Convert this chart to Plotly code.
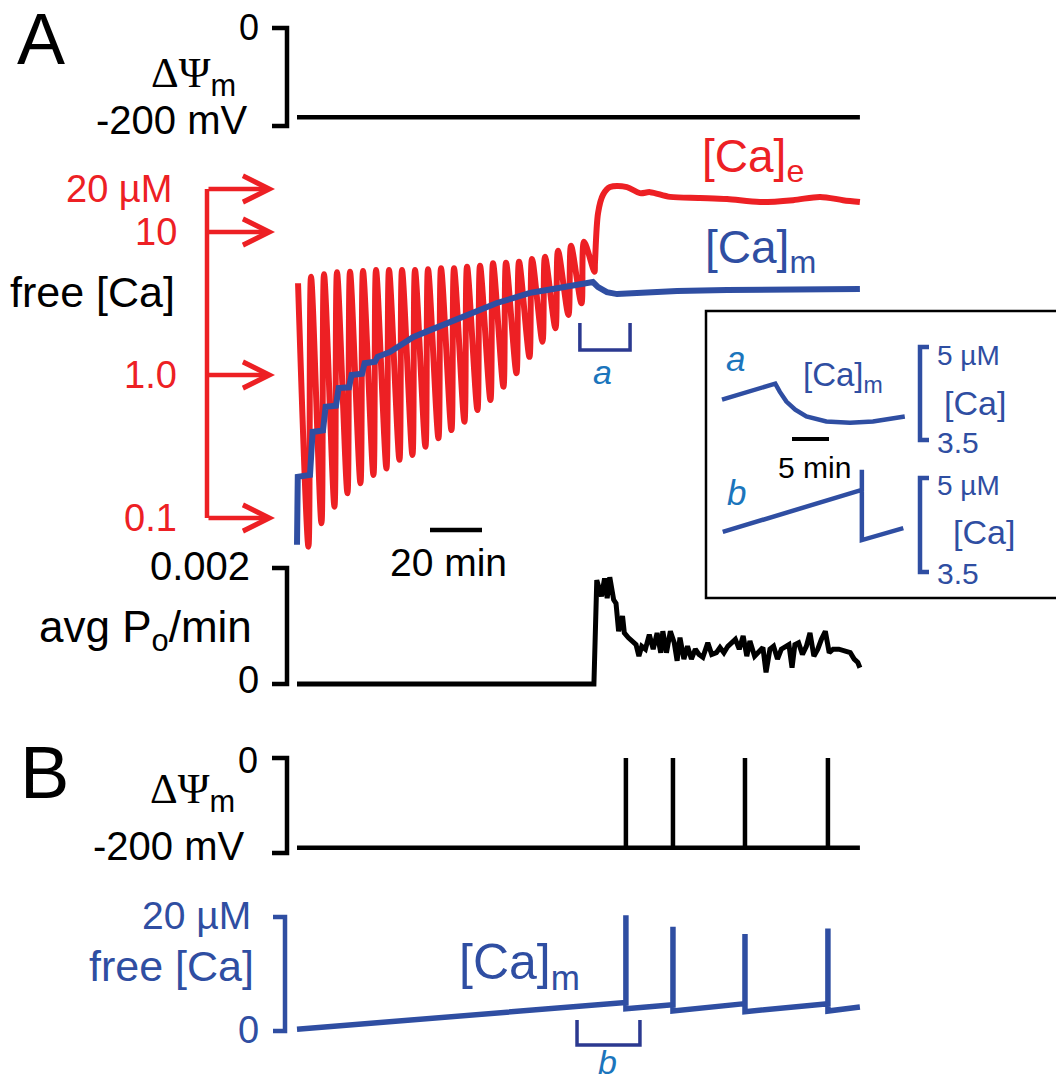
import math
import plotly.graph_objects as go

# ======================= DATA =======================
# Panel A – membrane potential (mV) vs time (min)
dpsiA_t = [0, 216.5]
dpsiA_v = [-182, -182]

# Panel A – extramitochondrial free Ca (µM): one Ca addition every 5 min
add_times = [0, 5, 10, 15, 20, 25, 30, 35, 40, 45, 50, 55, 60, 65, 70, 75, 80, 85, 90, 95, 100, 105, 110]
caE_peak = [4.38, 4.87, 5.06, 5.23, 5.28, 5.34, 5.42, 5.42, 5.42, 5.42, 5.48, 5.57, 5.57,
            5.72, 5.81, 6.04, 6.10, 6.20, 6.47, 6.72, 7.40, 8.00, 8.55]
caE_trough = [0.063, 0.092, 0.12, 0.149, 0.175, 0.20, 0.222, 0.255, 0.276, 0.315, 0.361, 0.412,
              0.472, 0.569, 0.669, 0.828, 1.03, 1.34, 1.71, 2.12, 2.63, 3.17, 5.28]
caE_post_t = [114.6, 115.8, 117.7, 120.4, 126.9, 131.9, 135.8, 143.5, 155.0, 165.4, 178.1, 190.8, 201.2, 210.0, 216.5]
caE_post_v = [6.07, 13.6, 18.2, 20.6, 20.6, 18.7, 19.0, 17.6, 17.3, 17.0, 16.2, 16.7, 17.6, 16.7, 16.2]

# Panel A – matrix free Ca (µM)
caMA_t = [0, 0.3, 5.0, 6.0, 10.0, 11.0, 15.0, 16.0, 20.0, 21.0, 25.0, 26.0, 30.0, 31.0,
          35.8, 39.6, 44.6, 51.2, 57.7, 63.8, 70.4, 76.9, 83.1, 89.6, 96.2, 102.3, 108.8, 113.8,
          115.8, 119.2, 123.1, 133.1, 146.2, 165.4, 216.5]
caMA_v = [0.065, 0.194, 0.20, 0.40, 0.41, 0.60, 0.61, 0.81, 0.82, 1.0, 1.02, 1.21, 1.24, 1.34,
          1.45, 1.62, 1.84, 2.06, 2.31, 2.54, 2.85, 3.19, 3.45, 3.75, 3.93, 4.12, 4.33, 4.47,
          4.12, 3.80, 3.68, 3.80, 3.87, 3.93, 4.0]

# Panel A – average open probability per minute
poA_t = [0, 114.2, 115.3, 117.1, 118.3, 119.3, 120.3, 121.8, 122.7, 123.7, 125.2, 125.9, 127.4,
         128.9, 130.4, 131.5, 132.6, 134.0, 135.5, 137.0, 138.5, 139.9, 140.7, 142.1, 143.6,
         145.1, 146.2, 147.3, 148.8, 150.2, 151.7, 153.2, 154.6, 156.1, 158.0, 159.5, 161.3,
         162.7, 164.2, 165.7, 167.2, 168.6, 170.1, 171.6, 173.0, 174.2, 176.0, 177.5, 179.2,
         180.4, 181.9, 183.3, 184.8, 186.3, 187.8, 189.2, 190.4, 191.5, 192.9, 194.4, 195.9,
         197.3, 198.8, 200.3, 201.7, 203.2, 204.7, 206.2, 208.4, 210.6, 212.8, 214.3, 215.7, 216.5]
poA_v = [v * 1e-3 for v in [
    0, 0, 1.79, 1.51, 1.82, 1.48, 1.84, 1.45, 1.39, 0.91, 1.17, 0.88, 0.80,
    0.74, 0.68, 0.48, 0.65, 0.60, 0.85, 0.60, 0.88, 0.54, 0.91, 0.54, 0.91,
    0.71, 0.40, 0.80, 0.43, 0.65, 0.43, 0.60, 0.51, 0.46, 0.71, 0.51, 0.54,
    0.63, 0.54, 0.65, 0.71, 0.77, 0.60, 0.83, 0.48, 0.74, 0.48, 0.54, 0.63,
    0.20, 0.60, 0.65, 0.43, 0.60, 0.65, 0.68, 0.28, 0.68, 0.71, 0.51, 0.65,
    0.88, 0.48, 0.60, 0.77, 0.91, 0.54, 0.60, 0.60, 0.57, 0.54, 0.43, 0.37, 0.28]]

# Panel B – membrane potential spikes
dpsiB_spike_t = [126.5, 144.6, 172.3, 204.2]
dpsiB_base = -189
dpsiB_peak = 0
dpsiB_end_t = 216.5

# Panel B – matrix free Ca (µM)
caMB_start = (0.0, 0.3)
caMB_pre = [5.0, 4.6, 4.8, 4.8]
caMB_peak = [20.3, 18.3, 17.0, 18.0]
caMB_post = [3.9, 3.5, 3.4, 3.5]
caMB_end = (216.5, 4.2)

# Inset a / b (time in min from start of window, Ca in µM)
insA_t = [0, 7.2, 7.8, 8.7, 9.9, 11.4, 14.1, 17.3, 20.4, 24.7]
insA_v = [4.15, 4.41, 4.28, 4.12, 3.99, 3.88, 3.80, 3.78, 3.80, 3.88]
insB_t = [0.1, 18.9, 18.9, 18.9, 24.5]
insB_v = [4.14, 4.81, 5.13, 4.01, 4.20]

# Scale marks
dpsi_ticks = [0, -200]
ca_log_ticks = [20, 10, 1.0, 0.1]
ca_log_labels = ["20 µM", "10", "1.0", "0.1"]
po_ticks = [0.002, 0]
caB_ticks = [20, 0]
ins_ticks = [5, 3.5]
bracket_a = [108.8, 128.1]
bracket_b = [107.7, 131.9]

# ======================= STYLE / LAYOUT =======================
W, H = 1064, 1080
OFF = 8                    # page body margin of the html
SANS = "Liberation Sans, Arial, sans-serif"
RED = "#ed2024"
BLUE = "#2f4ea2"
NAVY = "#2b3990"
ABLUE = "#1b75bc"
BLACK = "#000000"

X0, PPM = 297.0, 2.6      # pixel of t=0, pixels per min (main time axis)
IX0, IPPM = 722.0, 7.4    # inset time axis


def t_of(px):
    return (px - X0) / PPM


def ti_of(px):
    return (px - IX0) / IPPM


def fxp(px):
    return (px - OFF) / W


def fyp(py):
    return 1 - (py - OFF) / H


axes = {}


def lin_axis(name, top, bot, va, pa, vb, pb, log=False):
    slope = (vb - va) / (pb - pa)

    def val(p):
        return va + (p - pa) * slope
    axes[name] = val
    d = dict(domain=[fyp(bot), fyp(top)], range=[val(bot), val(top)],
             visible=False, fixedrange=True)
    if log:
        d["type"] = "log"
    return d


layout_axes = dict(
    xaxis=dict(domain=[0, 1], range=[t_of(OFF), t_of(W + OFF)], visible=False, fixedrange=True, anchor="y"),
    xaxis2=dict(domain=[fxp(706), fxp(1063)], range=[ti_of(706), ti_of(1063)], visible=False,
                fixedrange=True, anchor="y6"),
    yaxis=lin_axis("y", 8, 150, 0, 28, -200, 126),
    yaxis2=lin_axis("y2", 160, 556, 0, 375, 1, 232, log=True),
    yaxis3=lin_axis("y3", 556, 705, 0.002, 568, 0, 684),
    yaxis4=lin_axis("y4", 735, 875, 0, 758, -200, 853),
    yaxis5=lin_axis("y5", 880, 1080, 20, 917, 0, 1031),
    yaxis6=lin_axis("y6", 315, 452, 5, 347, 3.5, 440),
    yaxis7=lin_axis("y7", 452, 597, 5, 478, 3.5, 572),
)
for k in ["yaxis2", "yaxis3", "yaxis4", "yaxis5"]:
    layout_axes[k]["anchor"] = "x"
for k in ["yaxis6", "yaxis7"]:
    layout_axes[k]["anchor"] = "x2"

fig = go.Figure()


def add_line(x, y, xa, ya, color, width, shape="linear", smoothing=None):
    line = dict(color=color, width=width, shape=shape)
    if smoothing is not None:
        line["smoothing"] = smoothing
    fig.add_trace(go.Scatter(x=x, y=y, xaxis=xa, yaxis=ya, mode="lines", line=line,
                             hoverinfo="skip", showlegend=False))


# ---- Panel A: ΔΨm
add_line(dpsiA_t, dpsiA_v, "x", "y", BLACK, 4.5)
bL, bR = t_of(272), t_of(287)
add_line([bL, bR, bR, bL], [dpsi_ticks[0]] * 2 + [dpsi_ticks[1]] * 2, "x", "y", BLACK, 4.5)

# ---- Panel A: [Ca]e sawtooth
RISE, DECAY = 0.4, 4.0
ex_t, ex_v = [], []
for k, t0 in enumerate(add_times):
    ex_t += [t0 + RISE, t0 + RISE + DECAY]
    ex_v += [caE_peak[k], caE_trough[k]]
ex_t += caE_post_t
ex_v += caE_post_v
add_line(ex_t, ex_v, "x", "y2", RED, 6, shape="spline", smoothing=0.9)

# ---- Panel A: [Ca]m
add_line(caMA_t, caMA_v, "x", "y2", BLUE, 6)

# red log axis with arrows
ax_t = t_of(207)
add_line([ax_t, ax_t], [ca_log_ticks[0], ca_log_ticks[-1]], "x", "y2", RED, 4.5)
annotations = []
for v in ca_log_ticks:
    annotations.append(dict(x=t_of(275), y=math.log10(v), xref="x", yref="y2",
                            ax=ax_t, ay=math.log10(v), axref="x", ayref="y2",
                            showarrow=True, arrowhead=5, arrowsize=1.15, arrowwidth=4.5,
                            arrowcolor=RED, text="", standoff=0, startstandoff=0))

# 20 min scale bar
bar_y = 10 ** axes["y2"](530)
add_line([t_of(430), t_of(430) + 20], [bar_y, bar_y], "x", "y2", BLACK, 4.5)

# bracket "a"
ya_top = 10 ** axes["y2"](323)
ya_bot = 10 ** axes["y2"](350)
add_line([bracket_a[0], bracket_a[0], bracket_a[1], bracket_a[1]], [ya_top, ya_bot, ya_bot, ya_top],
         "x", "y2", NAVY, 3.5)

# ---- Panel A: avg Po
add_line(poA_t, poA_v, "x", "y3", BLACK, 5)
add_line([bL, bR, bR, bL], [po_ticks[0]] * 2 + [po_ticks[1]] * 2, "x", "y3", BLACK, 4.5)

# ---- Panel B: ΔΨm
bx, by = [0], [dpsiB_base]
for ts in dpsiB_spike_t:
    bx += [ts, ts, ts]
    by += [dpsiB_base, dpsiB_peak, dpsiB_base]
bx.append(dpsiB_end_t)
by.append(dpsiB_base)
add_line(bx, by, "x", "y4", BLACK, 4.5)
add_line([bL, bR, bR, bL], [dpsi_ticks[0]] * 2 + [dpsi_ticks[1]] * 2, "x", "y4", BLACK, 4.5)

# ---- Panel B: [Ca]m
cx, cy = [caMB_start[0]], [caMB_start[1]]
for i, ts in enumerate(dpsiB_spike_t):
    cx += [ts, ts, ts]
    cy += [caMB_pre[i], caMB_peak[i], caMB_post[i]]
cx.append(caMB_end[0])
cy.append(caMB_end[1])
add_line(cx, cy, "x", "y5", BLUE, 5.5)
bL2, bR2 = t_of(273), t_of(285)
add_line([bL2, bR2, bR2, bL2], [caB_ticks[0]] * 2 + [caB_ticks[1]] * 2, "x", "y5", BLUE, 4.5)
yb_top = axes["y5"](1020)
yb_bot = axes["y5"](1045)
add_line([bracket_b[0], bracket_b[0], bracket_b[1], bracket_b[1]], [yb_top, yb_bot, yb_bot, yb_top],
         "x", "y5", NAVY, 3.5)

# ---- Inset
add_line(insA_t, insA_v, "x2", "y6", BLUE, 4.5)
add_line(insB_t, insB_v, "x2", "y7", BLUE, 4.5)
iL, iR = ti_of(929), ti_of(920)
for ya in ["y6", "y7"]:
    add_line([iL, iR, iR, iL], [ins_ticks[0]] * 2 + [ins_ticks[1]] * 2, "x2", ya, BLUE, 4.5)
sb_y = axes["y6"](439)
add_line([ti_of(792), ti_of(792) + 5], [sb_y, sb_y], "x2", "y6", BLACK, 4)


# ---- Text
def txt(text, x, y, size, color=BLACK, xanchor="right"):
    annotations.append(dict(text=text, x=fxp(x), y=fyp(y), xref="paper", yref="paper",
                            xanchor=xanchor, yanchor="middle", showarrow=False,
                            font=dict(size=size, color=color, family=SANS)))


DPSI = '<span style="font-family:Liberation Serif;font-size:43px">ΔΨ</span><sub>m</sub>'

txt("A", 15, 39, 72, xanchor="left")
txt("0", 261, 28, 36)
txt(DPSI, 238, 76, 44)
txt("-200 mV", 249, 120, 40)
for lab, v in zip(ca_log_labels, ca_log_ticks):
    ypix = 375 - 143 * math.log10(v)
    txt(lab, 174 if lab.endswith("M") else 179, ypix, 38, RED)
txt("free [Ca]", 177, 292, 43)
txt("[Ca]<sub>e</sub>", 700, 160, 46, RED, xanchor="left")
txt("[Ca]<sub>m</sub>", 703, 250, 46, BLUE, xanchor="left")
txt("<i>a</i>", 602, 372, 34, ABLUE, xanchor="center")
txt("20 min", 448, 562, 39, xanchor="center")
txt("0.002", 252, 566, 40)
txt("avg P<sub>o</sub>/min", 254, 630, 44)
txt("0", 261, 680, 38)

txt("B", 18, 772, 74, xanchor="left")
txt("0", 260, 760, 36)
txt(DPSI, 237, 792, 44)
txt("-200 mV", 246, 846, 40)
txt("20 µM", 253, 915, 39, BLUE)
txt("free [Ca]", 256, 966, 43, BLUE)
txt("0", 261, 1030, 38, BLUE)
txt("[Ca]<sub>m</sub>", 457, 965, 50, BLUE, xanchor="left")
txt("<i>b</i>", 607, 1062, 34, ABLUE, xanchor="center")

txt("<i>a</i>", 735, 358, 35, ABLUE, xanchor="center")
txt("[Ca]<sub>m</sub>", 801, 377, 33, BLUE, xanchor="left")
txt("5 µM", 935, 355, 28, BLUE, xanchor="left")
txt("[Ca]", 942, 403, 34, BLUE, xanchor="left")
txt("3.5", 935, 442, 30, BLUE, xanchor="left")
txt("5 min", 814, 467, 30, xanchor="center")
txt("<i>b</i>", 736, 492, 35, ABLUE, xanchor="center")
txt("5 µM", 935, 485, 28, BLUE, xanchor="left")
txt("[Ca]", 951, 532, 34, BLUE, xanchor="left")
txt("3.5", 935, 573, 30, BLUE, xanchor="left")

shapes = [dict(type="rect", xref="paper", yref="paper", x0=fxp(706), x1=fxp(1062),
               y0=fyp(598), y1=fyp(311), line=dict(color=BLACK, width=2.5))]

fig.update_layout(
    width=W, height=H, autosize=False,
    margin=dict(l=0, r=0, t=0, b=0, pad=0),
    paper_bgcolor="white", plot_bgcolor="rgba(0,0,0,0)",
    font=dict(family=SANS, color=BLACK),
    showlegend=False,
    annotations=annotations,
    shapes=shapes,
    **layout_axes,
)

fig.write_html("out.html")
